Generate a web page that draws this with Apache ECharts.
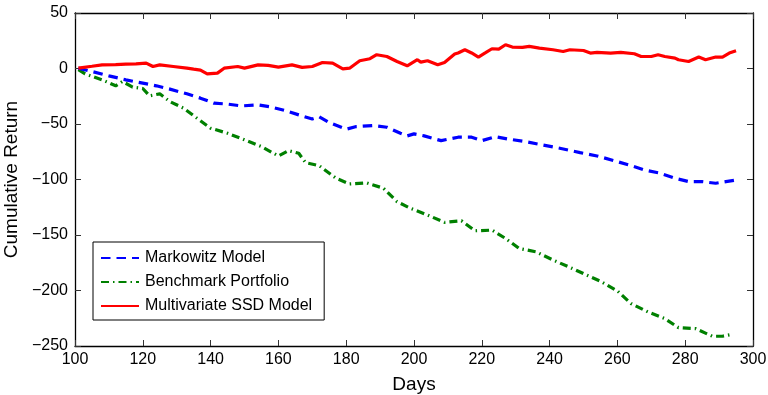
<!DOCTYPE html>
<html>
<head>
<meta charset="utf-8">
<script src="https://cdn.jsdelivr.net/npm/echarts@6/dist/echarts.min.js"></script>
<style>
html,body{margin:0;padding:0;background:#fff;}
#chart{width:768px;height:395px;}
</style>
</head>
<body>
<div id="chart"></div>
<script>
// Multivariate SSD Model (red)
const ssdDays = [101,105,108,112,115,118,121,123,125,129,133,135,137,139,142,144,148,150,154,157,160,164,167,170,173,176,179,181,184,187,189,192,195,198,201,202,204,207,209,212,213,215,217,219,221,223,225,227,229,232,234,237,241,244,246,250,252,254,258,261,265,267,270,272,274,277,278,281,284,286,289,291,293,295];
const ssdVals = [0.4,2,3.3,3.5,4,4.2,4.9,1.8,3.3,1.8,0.3,-0.6,-1.4,-4.8,-4.2,0.3,1.8,0.3,3.3,2.8,1.2,3.3,1,1.8,5.4,4.9,-0.3,0.3,7,8.8,12.4,10.8,6.3,2.4,7.9,5.7,7,3.3,5.4,13,14,16.9,14,10.3,14,17.8,17.5,21.4,19.3,19,19.9,18.4,16.9,15.3,16.9,16.2,13.9,14.5,13.9,14.5,13.3,10.8,10.8,12.4,10.8,9.4,7.9,6.3,10.3,7.9,10.3,10.3,13.9,16];

// Markowitz Model (blue)
const mkDays = [101,105,110,115,120,124,128,133,137,141,145,149,154,158,162,166,170,172,175,180,183,188,192,196,198,200,203,208,213,217,220,224,228,233,238,243,249,254,259,264,268,272,277,281,285,289,292,295];
const mkVals = [0.3,-2.7,-6.6,-10.2,-13.2,-15.6,-18.6,-22.8,-26.7,-31.2,-32.1,-33.7,-32.8,-34.8,-37.9,-41.8,-45.5,-43.5,-48.7,-54.7,-52.3,-51.4,-52.9,-58.3,-60.7,-58.9,-60.7,-65,-61.9,-61.9,-65,-61.4,-63.7,-65.9,-68.9,-71.8,-75.8,-78.8,-83,-87.5,-91.4,-93.9,-98.9,-101.9,-101.9,-103.4,-101.9,-100.5];

// Benchmark Portfolio (green)
const bmDays = [101,103,108,112,114,117,120,122,125,128,132,136,140,145,150,155,160,163,166,168,172,177,181,186,191,195,199,204,209,214,218,223,227,231,236,241,246,251,255,260,264,269,274,278,283,288,291,294];
const bmVals = [-1,-4.8,-10.2,-15.6,-11.7,-16.8,-18,-24.6,-22.8,-29.8,-35.7,-44.8,-53.8,-58.3,-64.3,-70.4,-78.8,-74,-76.4,-84.8,-87.5,-98.9,-104,-103,-107.9,-120,-126,-132,-138.6,-137.2,-146.2,-145.6,-153.1,-162.1,-165.2,-172.5,-179.2,-186.2,-191.6,-200.4,-211.7,-219.3,-225.3,-233.4,-234.3,-241.2,-241.2,-239.4];

const seriesNames = ['Markowitz Model','Benchmark Portfolio','Multivariate SSD Model'];
const xRange = {min:100, max:300, interval:20};
const yRange = {min:-250, max:50, interval:50};

const FONT = 'Liberation Sans, Arial, Helvetica, sans-serif';
const pair = (xs, ys) => xs.map((x, i) => [x, ys[i]]);
const fmt = v => String(v).replace('-', '\u2212');

const chart = echarts.init(document.getElementById('chart'), null, {renderer:'canvas'});
const tickStyle = {show:true, inside:true, length:6, lineStyle:{color:'#333', width:1}};
const lineAx = {show:true, onZero:false, lineStyle:{color:'#000', width:1.3}};

chart.setOption({
  animation:false,
  backgroundColor:'#fff',
  textStyle:{fontFamily:FONT},
  grid:{left:75, right:15, top:13, bottom:49, containLabel:false, outerBoundsMode:'none'},
  legend:{
    data:seriesNames,
    orient:'vertical',
    left:93, top:242,
    itemWidth:38, itemHeight:14, itemGap:8,
    padding:[8,12,6,7],
    borderColor:'#000', borderWidth:1, borderRadius:0,
    backgroundColor:'#fff',
    itemStyle:{color:'rgba(0,0,0,0)', borderWidth:0, borderColor:'rgba(0,0,0,0)'},
    textStyle:{fontFamily:FONT, fontSize:16, color:'#000', padding:[0,0,0,1]}
  },
  xAxis:[
    {type:'value', position:'bottom', ...xRange,
     name:'Days', nameLocation:'middle', nameGap:29,
     nameTextStyle:{fontFamily:FONT, fontSize:19, color:'#000'},
     axisLine:lineAx, axisTick:tickStyle,
     axisLabel:{fontFamily:FONT, fontSize:16, color:'#000', margin:6, formatter:fmt},
     splitLine:{show:false}},
    {type:'value', position:'top', ...xRange,
     axisLine:lineAx, axisTick:tickStyle, axisLabel:{show:false}, splitLine:{show:false}}
  ],
  yAxis:[
    {type:'value', position:'left', ...yRange,
     name:'Cumulative Return', nameLocation:'middle', nameGap:46,
     nameTextStyle:{fontFamily:FONT, fontSize:19, color:'#000'},
     axisLine:lineAx, axisTick:tickStyle,
     axisLabel:{fontFamily:FONT, fontSize:16, color:'#000', margin:7, formatter:fmt},
     splitLine:{show:false}},
    {type:'value', position:'right', ...yRange,
     axisLine:lineAx, axisTick:tickStyle, axisLabel:{show:false}, splitLine:{show:false}}
  ],
  series:[
    {name:seriesNames[0], type:'line', data:pair(mkDays, mkVals), symbol:'none', z:3,
     lineStyle:{color:'#0000ff', width:3.2, type:[9.5,6]}, itemStyle:{color:'#0000ff'}},
    {name:seriesNames[1], type:'line', data:pair(bmDays, bmVals), symbol:'none', z:2,
     lineStyle:{color:'#008000', width:3.2, type:[8,4,1.5,4]}, itemStyle:{color:'#008000'}},
    {name:seriesNames[2], type:'line', data:pair(ssdDays, ssdVals), symbol:'none', z:4,
     lineStyle:{color:'#ff0000', width:3.2}, itemStyle:{color:'#ff0000'}}
  ]
});
</script>
</body>
</html>
